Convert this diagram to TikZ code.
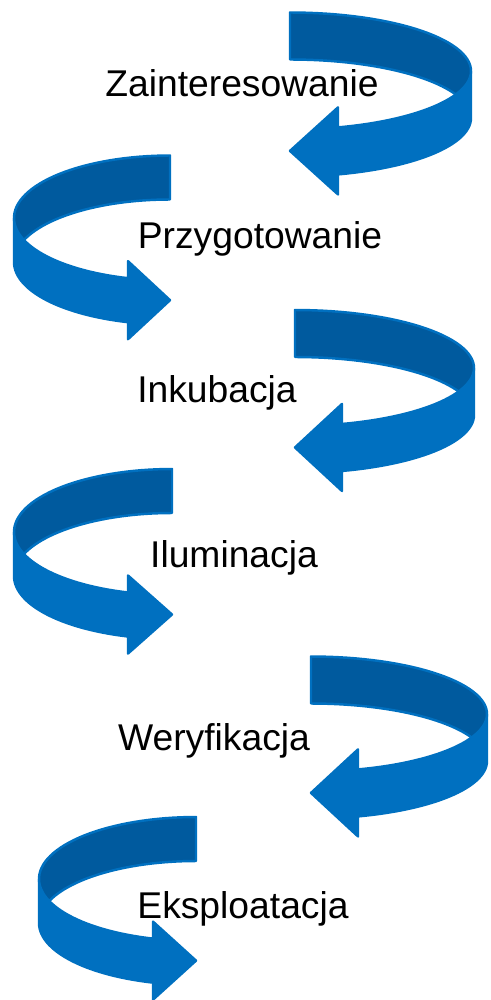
\documentclass[tikz,border=0pt]{standalone}
\usepackage{fontspec}
\setmainfont{Liberation Sans}
\definecolor{bandblue}{HTML}{0070C0}
\definecolor{banddark}{HTML}{005A9E}
\tikzset{
    frontband/.style={fill=bandblue,draw=bandblue,line width=1.4pt,line join=round},
    backband/.style={fill=banddark,draw=bandblue,line width=1.4pt,line join=round},
    stagetext/.style={anchor=base,inner sep=0pt,font=\fontsize{21.2}{25}\selectfont},
}
% #1,#2 centre, #3,#4 radii, #5 band height, #6 head start, #7 barb, #8 side
\newcommand{\turnarrow}[8]{%
\begin{scope}[shift={(#1,#2)},xscale=#8]
\pgfmathsetmacro{\te}{acos(#6/#3)}
\pgfmathsetmacro{\ta}{asin(#5/(2*#4))}
\pgfmathsetmacro{\ye}{#4*sin(\te)}
\filldraw[frontband] (#3,0) -- plot[domain=0:-\te,samples=30] ({#3*cos(\x)},{-#4*sin(\x)})
    -- (#6,\ye-#7) -- (0,\ye+#5/2) -- (#6,\ye+#5+#7)
    -- plot[domain=-\te:0,samples=30] ({#3*cos(\x)},{#5-#4*sin(\x)}) -- cycle;
\filldraw[backband] (0,-#4) -- plot[domain=90:-\ta,samples=40] ({#3*cos(\x)},{-#4*sin(\x)})
    -- plot[domain=\ta:90,samples=30] ({#3*cos(\x)},{#5-#4*sin(\x)}) -- cycle;
\end{scope}}

\begin{document}
\begin{tikzpicture}[x=0.02cm,y=-0.02cm]
\useasboundingbox (0,0) rectangle (490,1000);

\turnarrow{290}{71}{181}{58.5}{47}{48}{20}{1}
\turnarrow{170}{218}{156}{62.5}{44}{42}{17}{-1}
\turnarrow{295}{368}{179}{58}{47}{47}{20}{1}
\turnarrow{172}{532}{158}{63}{44}{44}{17}{-1}
\turnarrow{311}{714}{176}{57.5}{47}{47}{20}{1}
\turnarrow{196}{879}{157}{62}{44}{43}{17}{-1}

\node (zaint) at (242,97) [stagetext] {Zainteresowanie};
\node (przyg) at (260,248) [stagetext] {Przygotowanie};
\node (inkub) at (217,402) [stagetext] {Inkubacja};
\node (ilum) at (234,567) [stagetext] {Iluminacja};
\node (weryf) at (214,750) [stagetext] {Weryfikacja};
\node (ekspl) at (243,918) [stagetext] {Eksploatacja};

\end{tikzpicture}
\end{document}
